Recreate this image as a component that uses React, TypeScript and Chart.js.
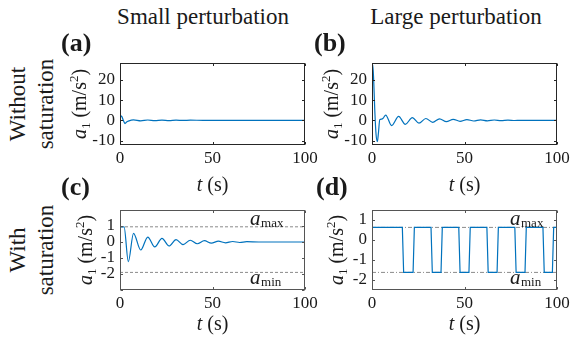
import React, { useEffect, useRef } from "react";
import { Chart, registerables } from "chart.js";
Chart.register(...registerables);

const FONT = "'Liberation Serif', 'Times New Roman', Tinos, 'Noto Serif', 'DejaVu Serif', FreeSerif, serif";

// ---- data ----
const xTicks = [0, 50, 100];

// (a) small perturbation, without saturation
const tA = [0, 0.4, 1.0, 1.8, 2.7, 3.6, 4.5, 7.3, 11.2, 15, 18.8, 22.7, 26.5, 30.3, 34.1, 38, 45, 60, 80, 100];
const aA = [0, 2.2, 1.8, 0, -1.6, -0.8, -0.4, 0.2, -0.3, 0.15, -0.2, 0.12, -0.12, 0.08, -0.08, 0.05, 0, 0, 0, 0];

// (b) large perturbation, without saturation
const tB = [0, 0.4, 0.9, 1.5, 2.2, 2.9, 3.5, 4.2, 5.2, 6.0, 7.4, 10.6, 14.4, 18, 21.8, 25.4, 29.1, 32.8, 36.5, 40.2, 43.9, 47.6, 51.3, 55, 58.7, 62.4, 66.1, 69.8, 73.5, 77.2, 80, 90, 100];
const aB = [0, 27.5, 20, 5, -7, -10.5, -6, 0.3, 0.6, 1.0, 2.6, -2.6, 1.9, -2.0, 1.3, -1.4, 0.9, -1.0, 0.7, -0.7, 0.5, -0.5, 0.35, -0.35, 0.25, -0.25, 0.15, -0.15, 0.1, -0.1, 0, 0, 0];

// (c) small perturbation, with saturation
const tC = [0, 0.2, 2.2, 4.5, 7.3, 11.2, 15.0, 18.8, 22.7, 26.5, 30.3, 34.1, 38.0, 41.8, 45.6, 49.4, 53.2, 57.0, 60.9, 64.7, 68.5, 75, 85, 100];
const aC = [0, 0.95, 0.95, -1.23, 0.54, -0.5, 0.31, -0.31, 0.23, -0.25, 0.15, -0.16, 0.11, -0.11, 0.08, -0.07, 0.05, -0.05, 0.03, -0.03, 0.02, 0, 0, 0];

// (d) large perturbation, with saturation
const tD = [0, 0.2, 16.4, 17.1, 22.2, 22.9, 31.9, 32.6, 37.3, 38.0, 46.9, 47.6, 52.4, 53.1, 62.1, 62.8, 67.6, 68.3, 77.2, 77.9, 82.7, 83.4, 92.4, 93.1, 97.5, 98.2, 100];
const aD = [0, 0.63, 0.63, -1.62, -1.62, 0.63, 0.63, -1.62, -1.62, 0.63, 0.63, -1.62, -1.62, 0.63, 0.63, -1.62, -1.62, 0.63, 0.63, -1.62, -1.62, 0.63, 0.63, -1.62, -1.62, 0.63, 0.63];

const yTicksAB = [-10, 0, 10, 20];
const yTicksC = [-3, -2, -1, 0, 1, 2];
const yLabelsC = [-2, -1, 0, 1];
const yTicksD = [-2, -1, 0, 1];

const aMaxC = 0.95;
const aMinC = -1.9;
const aMaxD = 0.63;
const aMinD = -1.62;

type Spec = {
  left: number; top: number; w: number; h: number;
  t: number[]; a: number[];
  yMin: number; yMax: number; yTicks: number[]; yLabels: number[];
  smooth: boolean;
  sat?: { max: number; min: number; labelT: number; dash: number[] };
  boxColor: string;
};

const PAD_L = 40, PAD_T = 18, PAD_R = 16, PAD_B = 24;

function Panel({ s }: { s: Spec }) {
  const ref = useRef<HTMLCanvasElement>(null);
  const W = PAD_L + s.w + PAD_R;
  const H = PAD_T + s.h + PAD_B;
  useEffect(() => {
    const datasets: any[] = [
      {
        data: s.t.map((x, i) => ({ x, y: s.a[i] })),
        borderColor: "#0072BD",
        borderWidth: 1.2,
        pointRadius: 0,
        cubicInterpolationMode: s.smooth ? "monotone" : "default",
        tension: 0,
        fill: false,
        order: 0,
      },
    ];
    if (s.sat) {
      for (const v of [s.sat.max, s.sat.min]) {
        datasets.push({
          data: [{ x: 0, y: v }, { x: 100, y: v }],
          borderColor: "#8a8a8a",
          borderDash: s.sat.dash,
          borderWidth: 1,
          pointRadius: 0,
          fill: false,
          order: 1,
        });
      }
    }
    const frame = {
      id: "frame",
      afterDatasetsDraw(chart: any) {
        const { ctx, chartArea, scales } = chart;
        const l = Math.round(chartArea.left) + 0.5;
        const r = Math.round(chartArea.right) - 0.5;
        const t = Math.round(chartArea.top) + 0.5;
        const b = Math.round(chartArea.bottom) - 0.5;
        ctx.save();
        ctx.strokeStyle = s.boxColor;
        ctx.lineWidth = 1;
        ctx.strokeRect(l, t, r - l, b - t);
        const TL = 2.5;
        ctx.beginPath();
        for (const tk of scales.y.ticks) {
          const py = Math.round(scales.y.getPixelForValue(tk.value)) + 0.5;
          ctx.moveTo(l, py); ctx.lineTo(l + TL, py);
          ctx.moveTo(r, py); ctx.lineTo(r - TL, py);
        }
        for (const tk of scales.x.ticks) {
          const px = Math.round(scales.x.getPixelForValue(tk.value)) + 0.5;
          ctx.moveTo(px, b); ctx.lineTo(px, b - TL);
          ctx.moveTo(px, t); ctx.lineTo(px, t + TL);
        }
        ctx.stroke();
        if (s.sat) {
          const lx = scales.x.getPixelForValue(s.sat.labelT);
          const drawLab = (sub: string, baseY: number) => {
            ctx.fillStyle = "#1a1a1a";
            ctx.textBaseline = "alphabetic";
            ctx.textAlign = "left";
            ctx.font = `italic 21px ${FONT}`;
            ctx.fillText("a", lx, baseY);
            const aw = ctx.measureText("a").width;
            ctx.font = `13px ${FONT}`;
            ctx.fillText(sub, lx + aw + 0.5, baseY + 2);
          };
          drawLab("max", scales.y.getPixelForValue(s.sat.max) - 2);
          drawLab("min", scales.y.getPixelForValue(s.sat.min) + 12);
        }
        ctx.restore();
      },
    };
    const chart = new Chart(ref.current as HTMLCanvasElement, {
      type: "line",
      data: { datasets },
      options: {
        animation: false,
        responsive: false,
        devicePixelRatio: 1,
        layout: { padding: { left: 0, top: PAD_T, right: PAD_R, bottom: 0 } },
        plugins: { legend: { display: false }, tooltip: { enabled: false } },
        scales: {
          x: {
            type: "linear",
            min: 0,
            max: 100,
            grid: { display: false, drawTicks: false },
            border: { display: false },
            afterBuildTicks: (sc: any) => { sc.ticks = xTicks.map((v) => ({ value: v })); },
            afterFit: (sc: any) => { sc.height = PAD_B; },
            ticks: {
              padding: 3,
              maxRotation: 0,
              autoSkip: false,
              color: "#1a1a1a",
              font: { family: FONT, size: 17 },
              callback: (v: any) => String(v),
            },
          },
          y: {
            type: "linear",
            min: s.yMin,
            max: s.yMax,
            grid: { display: false, drawTicks: false },
            border: { display: false },
            afterBuildTicks: (sc: any) => { sc.ticks = s.yTicks.map((v) => ({ value: v })); },
            afterFit: (sc: any) => { sc.width = PAD_L; },
            ticks: {
              padding: 5,
              autoSkip: false,
              color: "#1a1a1a",
              font: { family: FONT, size: 17 },
              callback: (v: any) => (s.yLabels.includes(v) ? String(v) : ""),
            },
          },
        },
      },
      plugins: [frame],
    } as any);
    return () => chart.destroy();
  }, []);
  return (
    <canvas
      ref={ref}
      width={W}
      height={H}
      style={{ position: "absolute", left: s.left - PAD_L, top: s.top - PAD_T, width: W, height: H }}
    />
  );
}

const specs: Spec[] = [
  { left: 120, top: 63, w: 185, h: 82, t: tA, a: aA, yMin: -12.2, yMax: 28.3, yTicks: yTicksAB, yLabels: yTicksAB, smooth: true, boxColor: "#262626" },
  { left: 372, top: 63, w: 185, h: 82, t: tB, a: aB, yMin: -12.2, yMax: 28.3, yTicks: yTicksAB, yLabels: yTicksAB, smooth: true, boxColor: "#262626" },
  { left: 120, top: 210, w: 185, h: 80, t: tC, a: aC, yMin: -3, yMax: 2, yTicks: yTicksC, yLabels: yLabelsC, smooth: true, sat: { max: aMaxC, min: aMinC, labelT: 70.3, dash: [3, 2] }, boxColor: "#555" },
  { left: 372, top: 210, w: 185, h: 80, t: tD, a: aD, yMin: -2.5, yMax: 1.5, yTicks: yTicksD, yLabels: yTicksD, smooth: false, sat: { max: aMaxD, min: aMinD, labelT: 74.6, dash: [4, 2, 1, 2] }, boxColor: "#555" },
];

const abs = (x: number, y: number, extra: any = {}) => ({ position: "absolute" as const, left: x, top: y, whiteSpace: "nowrap" as const, ...extra });

function YTitle({ cx, cy }: { cx: number; cy: number }) {
  return (
    <div style={abs(cx, cy, { transform: "translate(-50%,-50%) rotate(-90deg)", fontSize: 20, lineHeight: "20px" })}>
      <i>a</i>
      <span style={{ fontSize: 13, position: "relative", top: 4 }}>1</span> (m/s
      <span style={{ fontSize: 13, position: "relative", top: -8 }}>2</span>)
    </div>
  );
}

function XTitle({ cx, cy }: { cx: number; cy: number }) {
  return (
    <div style={abs(cx, cy, { transform: "translate(-50%,-50%)", fontSize: 20, lineHeight: "20px" })}>
      <i>t</i> (s)
    </div>
  );
}

function RowLabel({ cy, first }: { cy: number; first: string }) {
  return (
    <div style={abs(31.6, cy, { transform: "translate(-50%,-50%) rotate(-90deg)", fontSize: 23, lineHeight: "28px", textAlign: "center" })}>
      {first}
      <br />
      saturation
    </div>
  );
}

function Letter({ x, y, txt }: { x: number; y: number; txt: string }) {
  return <div style={abs(x, y, { fontSize: 26, lineHeight: "26px", fontWeight: "bold" })}>{txt}</div>;
}

export default function App() {
  return (
    <div style={{ position: "absolute", left: 0, top: 0, width: 570, height: 343, background: "#fff", fontFamily: FONT, color: "#1a1a1a", overflow: "hidden" }}>
      {specs.map((s, i) => (
        <Panel key={i} s={s} />
      ))}
      <div style={abs(203, 5, { transform: "translateX(-50%)", fontSize: 23, lineHeight: "23px" })}>Small perturbation</div>
      <div style={abs(456, 5, { transform: "translateX(-50%)", fontSize: 23, lineHeight: "23px" })}>Large perturbation</div>
      <Letter x={61} y={30} txt="(a)" />
      <Letter x={314} y={30} txt="(b)" />
      <Letter x={61} y={174} txt="(c)" />
      <Letter x={316} y={174} txt="(d)" />
      <RowLabel cy={104} first="Without" />
      <RowLabel cy={250} first="With" />
      <YTitle cx={80} cy={104} />
      <YTitle cx={332} cy={104} />
      <YTitle cx={86} cy={250} />
      <YTitle cx={337} cy={250} />
      <XTitle cx={212.5} cy={183.5} />
      <XTitle cx={464.5} cy={183.5} />
      <XTitle cx={212.5} cy={323} />
      <XTitle cx={464.5} cy={323} />
    </div>
  );
}
